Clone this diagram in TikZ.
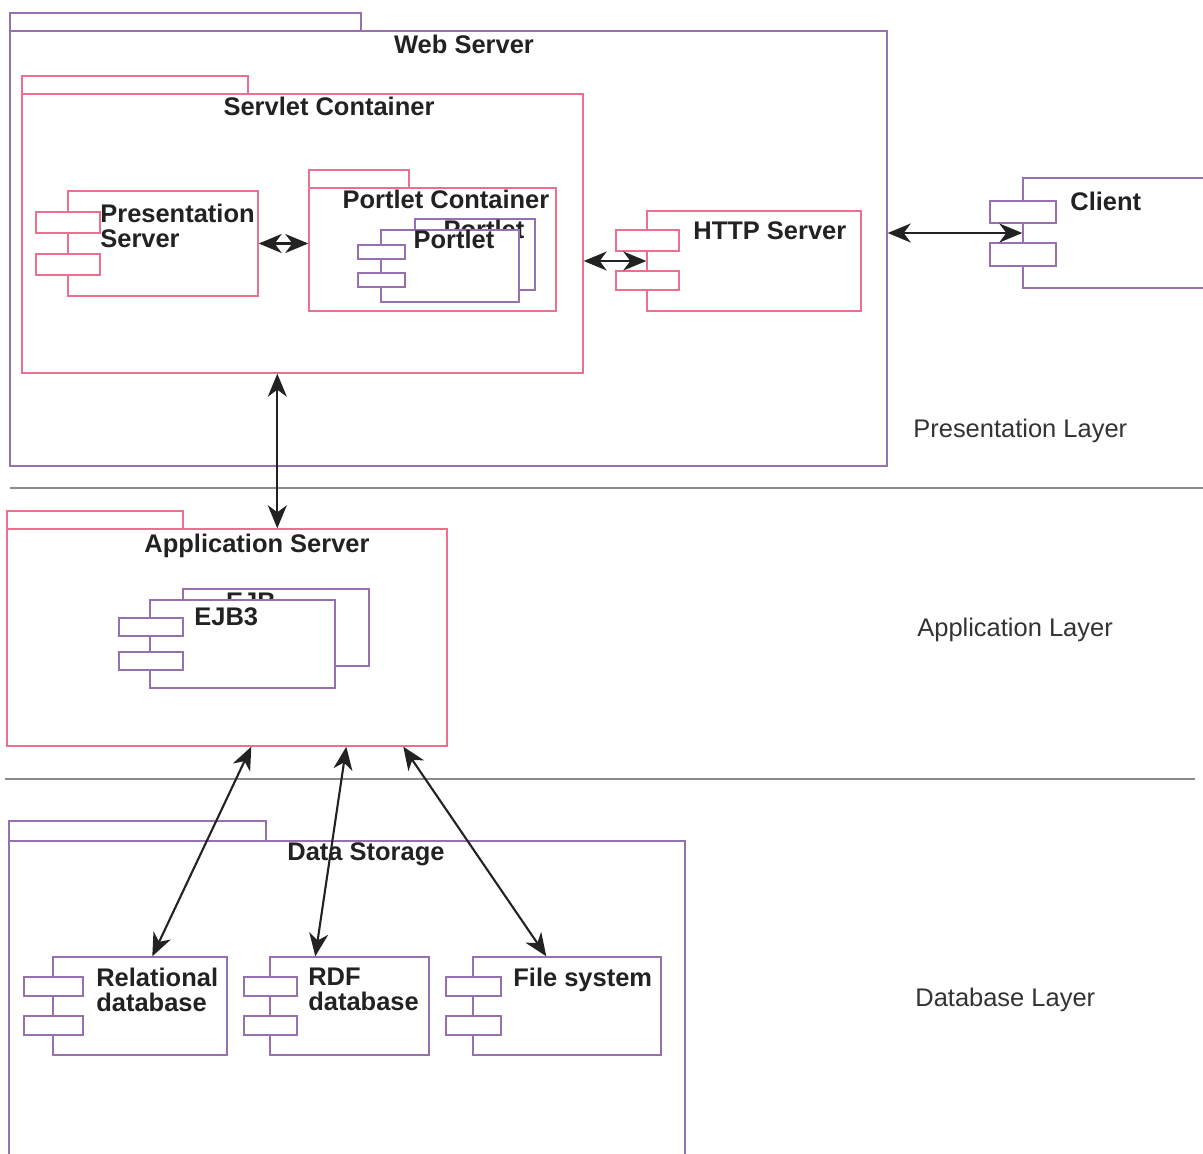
\documentclass[tikz,border=0pt]{standalone}
\usepackage{fontspec}
\setmainfont{Liberation Sans}
\usetikzlibrary {arrows.meta, positioning, calc, fit}
\definecolor{umlpurple}{RGB}{150,112,175}
\definecolor{umlpink}{RGB}{236,112,142}
\definecolor{txt}{RGB}{34,34,34}
\tikzset{
    >={Stealth[length=4.6mm, width=3.8mm, inset=1.4mm]},
    box/.style={draw, line width=0.8pt, inner sep=0pt, fill=white},
    lbl/.style={font=\fontsize{14.5}{14}\selectfont\bfseries, text=txt, inner sep=0pt},
    layer/.style={font=\fontsize{14.5}{14}\selectfont, text=black!80, inner sep=0pt, anchor=base west},
    link/.style={<->, line width=1.2pt, draw=txt},
    sep/.style={draw=black!45, line width=0.8pt}
}

\begin{document}
\begin{tikzpicture}[x=0.02cm, y=-0.02cm]
\useasboundingbox (0,0) rectangle (1203,1153);
\clip (0,0) rectangle (1203,1153);

% web server
\node[box, draw=umlpurple, fit={(10,13) (361,31)}] (wstab) {};
\node[box, draw=umlpurple, fit={(10,31) (887,466)}] (ws) {};
\node[lbl, anchor=base] (wslbl) at (464,53) {Web Server};

% servlet container
\node[box, draw=umlpink, fit={(22,76) (248,94)}] (sctab) {};
\node[box, draw=umlpink, fit={(22,94) (583,373)}] (sc) {};
\node[lbl, anchor=base] (sclbl) at (329,115) {Servlet Container};

% presentation server
\node[box, draw=umlpink, fit={(68,191) (258,296)}] (ps) {};
\node[box, draw=umlpink, fit={(36,212) (100,233)}] (psa) {};
\node[box, draw=umlpink, fit={(36,254) (100,275)}] (psb) {};
\node[lbl, anchor=north west, align=left] (pslbl) at (100,204) {Presentation\\Server};

% portlet container
\node[box, draw=umlpink, fit={(309,170) (409,188)}] (pctab) {};
\node[box, draw=umlpink, fit={(309,188) (556,311)}] (pc) {};
\node[lbl, anchor=base] (pclbl) at (446,208) {Portlet Container};
\node[box, draw=umlpurple, fit={(415,219) (535,290)}] (ptback) {};
\node[lbl, anchor=base] (ptbacklbl) at (484,238) {Portlet};
\node[box, draw=umlpurple, fit={(381,230) (519,302)}] (pt) {};
\node[box, draw=umlpurple, fit={(358,245) (405,259)}] (pta) {};
\node[box, draw=umlpurple, fit={(358,273) (405,287)}] (ptb) {};
\node[lbl, anchor=base] (ptlbl) at (454,248) {Portlet};

% http server
\node[box, draw=umlpink, fit={(647,211) (861,311)}] (http) {};
\node[box, draw=umlpink, fit={(616,230) (679,251)}] (httpa) {};
\node[box, draw=umlpink, fit={(616,271) (679,290)}] (httpb) {};
\node[lbl, anchor=base west] (httplbl) at (693,239) {HTTP Server};

% client
\node[box, draw=umlpurple, fit={(1023,178) (1215,288)}] (cl) {};
\node[box, draw=umlpurple, fit={(990,201) (1056,223)}] (cla) {};
\node[box, draw=umlpurple, fit={(990,243) (1056,266)}] (clb) {};
\node[lbl, anchor=base west] (cllbl) at (1070,210) {Client};

% application server
\node[box, draw=umlpink, fit={(7,511) (183,529)}] (apptab) {};
\node[box, draw=umlpink, fit={(7,529) (447,746)}] (app) {};
\node[lbl, anchor=base] (applbl) at (257,552) {Application Server};
\node[box, draw=umlpurple, fit={(183,589) (369,666)}] (ejbback) {};
\node[lbl, anchor=base] (ejbbacklbl) at (251,610) {EJB};
\node[box, draw=umlpurple, fit={(150,600) (335,688)}] (ejb) {};
\node[box, draw=umlpurple, fit={(119,618) (183,636)}] (ejba) {};
\node[box, draw=umlpurple, fit={(119,652) (183,670)}] (ejbb) {};
\node[lbl, anchor=base west] (ejblbl) at (194,625) {EJB3};

% data storage
\node[box, draw=umlpurple, fit={(9,821) (266,841)}] (dstab) {};
\node[box, draw=umlpurple, fit={(9,841) (685,1170)}] (ds) {};
\node[lbl, anchor=base] (dslbl) at (366,860) {Data Storage};
\node[box, draw=umlpurple, fit={(53,957) (227,1055)}] (rel) {};
\node[box, draw=umlpurple, fit={(24,977) (83,996)}] (rela) {};
\node[box, draw=umlpurple, fit={(24,1016) (83,1035)}] (relb) {};
\node[lbl, anchor=north west, align=left] (rellbl) at (96,968) {Relational\\database};
\node[box, draw=umlpurple, fit={(270,957) (429,1055)}] (rdf) {};
\node[box, draw=umlpurple, fit={(244,977) (297,996)}] (rdfa) {};
\node[box, draw=umlpurple, fit={(244,1016) (297,1035)}] (rdfb) {};
\node[lbl, anchor=north west, align=left] (rdflbl) at (308,968) {RDF\\database};
\node[box, draw=umlpurple, fit={(473,957) (661,1055)}] (fs) {};
\node[box, draw=umlpurple, fit={(446,977) (501,996)}] (fsa) {};
\node[box, draw=umlpurple, fit={(446,1016) (501,1035)}] (fsb) {};
\node[lbl, anchor=base west] (fslbl) at (513,986) {File system};

% layers
\draw[sep] (10,488) -- (1203,488);
\draw[sep] (5,779) -- (1195,779);
\node[layer] (presl) at (913,437) {Presentation Layer};
\node[layer] (appl) at (917,636) {Application Layer};
\node[layer] (dbl) at (915,1006) {Database Layer};

% draw arrow
\draw[link] (ps.east) -- (ps.east -| pc.west);
\draw[link] (sc.east |- http.west) -- (http.west);
\draw[link] (ws.east |- cl.west) -- (cl.west);
\draw[link] ($(sc.south west)+(256,0)$) -- ($(app.north west)+(271,0)$);
\draw[link] ($(app.south west)+(245,0)$) -- ($(rel.north west)+(100,0)$);
\draw[link] ($(app.south west)+(340,0)$) -- ($(rdf.north west)+(46,0)$);
\draw[link] ($(app.south west)+(397,0)$) -- ($(fs.north west)+(74,0)$);
\end{tikzpicture}
\end{document}
